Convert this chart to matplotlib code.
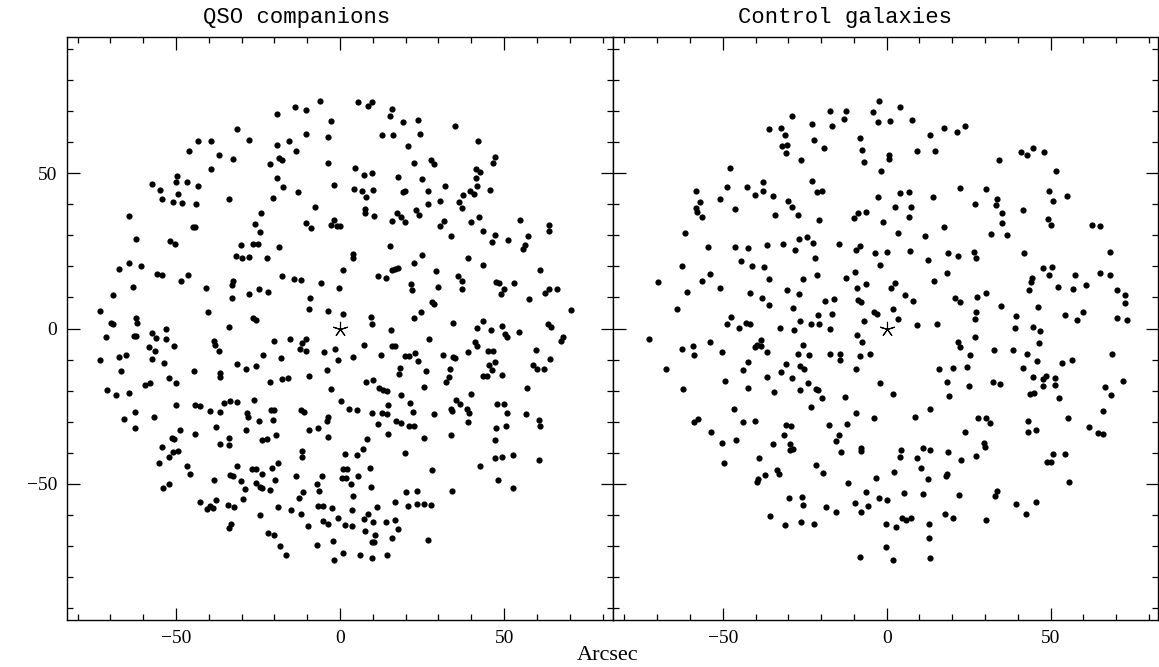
import matplotlib
matplotlib.use('Agg')
import matplotlib.pyplot as plt
from matplotlib.ticker import MultipleLocator

# ---------------- data (arcsec offsets) ----------------
qso_xy = [
(-6.1,73.5),(-13.8,71.5),(-10.4,70.6),(-19.2,69.1),(-2.7,66.8),(-31.5,64.4),(-10.5,62.6),(-3.6,61.8),(-43.4,60.5),(-39.2,60.5),(-27.7,60.9),(-15.5,60.6),(-19.2,59.3),(-45.9,57.3),(-13.3,57.1),(-37.0,55.9),(-32.7,54.7),(-18.6,55.1),(-17.7,54.2),(-3.6,53.5),(-21.3,52.9),(-39.4,51.3),(-49.7,49.3),(-50.0,47.4),(-57.4,46.5),(-46.6,47.4),(-43.4,46.1),(-55.0,44.6),(-19.1,48.4),(-17.3,45.7),(-1.8,46.4),(-49.3,43.3),(-54.3,41.6),(-50.9,40.9),(-48.3,40.4),(-43.9,40.2),(-33.7,41.7),(-20.4,42.2),(-12.8,43.9),(-7.7,39.3),(-64.4,36.2),(-24.0,37.2),(-1.8,35.1),(-2.8,33.3),(-1.0,33.1),(0.0,33.1),(-44.9,32.8),(-44.1,32.6),(-26.0,33.6),(-10.3,34.0),(-8.7,32.3),(-24.3,31.1),(-62.3,29.0),(-51.7,28.3),(-50.3,27.2),(-30.2,26.9),(-26.4,27.4),(-25.1,27.4),(-18.5,26.2),
(5.5,72.9),(8.5,71.9),(9.7,73.2),(15.9,70.9),(15.3,68.4),(19.3,66.7),(23.9,67.1),(34.9,65.4),(12.8,62.4),(16.3,62.3),(24.3,62.6),(42.1,60.6),(20.8,58.9),(4.6,51.7),(7.4,49.5),(9.7,50.2),(22.5,53.5),(27.7,54.3),(28.6,53.2),(47.2,55.3),(46.6,53.5),(41.4,51.3),(42.8,50.4),(17.6,48.7),(25.1,48.2),(41.4,48.5),(4.4,45.1),(6.6,44.4),(10.1,44.6),(8.0,42.5),(19.1,44.1),(19.8,44.4),(26.8,44.4),(31.9,45.9),(41.7,45.9),(45.6,44.7),(39.7,44.2),(40.8,43.5),(37.6,42.9),(36.3,40.9),(37.3,38.7),(30.6,41.1),(26.7,40.0),(7.5,38.4),(7.5,37.3),(10.5,36.3),(17.3,37.2),(18.7,36.1),(19.9,34.5),(15.9,34.6),(23.2,38.2),(24.2,36.7),(31.6,34.7),(30.6,33.1),(33.8,29.9),(39.8,34.4),(42.4,36.1),(43.7,31.3),(47.2,30.3),(46.3,27.8),(51.2,28.5),(54.8,35.1),(57.2,29.7),(63.8,33.4),(63.6,31.4),(56.4,26.8),(55.9,25.7),(15.2,26.5),
(-31.7,23.5),(-29.8,22.8),(-27.7,23.1),(-22.3,22.6),(-67.5,19.3),(-64.4,21.0),(-60.6,20.3),(-55.8,17.6),(-54.1,17.1),(-48.5,15.4),(-46.3,17.3),(-63.0,13.3),(-69.3,10.9),(-40.8,13.2),(-32.7,15.3),(-33.0,13.9),(-32.9,9.9),(-27.7,11.2),(-24.8,12.7),(-22.0,11.7),(-17.7,17.0),(-13.9,15.9),(-12.0,15.5),(-5.7,14.7),(-9.1,9.9),(-9.4,6.3),(-3.8,5.6),(-73.1,5.6),(-40.3,5.2),(-26.5,3.5),(-25.7,2.9),(-62.2,3.5),(-61.9,1.8),(-69.8,1.8),(-69.3,1.6),(-53.1,0.0),(-33.9,0.4),(-71.3,-2.6),(-62.7,-2.4),(-62.1,-2.4),(-57.2,-1.6),(-56.2,-3.1),(-53.0,-3.5),(-50.7,-5.8),(-58.2,-6.1),(-56.4,-7.2),(-38.5,-4.1),(-38.1,-5.4),(-36.8,-7.4),(-20.0,-4.0),(-15.2,-3.5),(-11.7,-4.6),(-10.4,-3.5),(-12.2,-6.7),(-10.3,-7.1),(-4.8,-7.5),(-1.5,-6.6),(-73.0,-10.3),(-67.5,-9.1),(-65.3,-8.7),(-57.3,-9.9),(-53.7,-11.1),(-66.8,-13.8),(-44.5,-13.7),(-36.7,-14.4),(-36.5,-15.6),(-31.5,-11.6),(-28.6,-13.2),(-25.7,-12.2),(-23.4,-8.5),(-18.0,-9.6),(-9.5,-15.2),(-4.1,-13.3),(-52.2,-15.9),(-50.0,-17.7),(-59.5,-18.1),(-57.8,-17.6),(-71.1,-19.7),(-68.2,-21.4),(-64.3,-20.7),(-21.3,-17.4),(-17.7,-16.3),(-15.8,-15.9),(-2.7,-19.6),(-49.9,-24.7),(-44.1,-24.7),(-42.7,-24.9),(-35.4,-24.0),(-33.5,-23.3),(-31.4,-23.6),(-26.1,-23.1),
(3.9,23.9),(3.9,22.8),(25.1,23.8),(22.4,21.2),(38.9,22.6),(43.6,20.6),(60.9,18.9),(0.9,19.0),(15.8,18.9),(16.7,19.2),(17.8,19.6),(29.3,18.5),(11.7,17.0),(14.0,16.2),(35.9,16.9),(37.1,15.3),(37.3,12.7),(47.4,14.9),(48.6,14.8),(53.1,14.6),(50.0,12.8),(49.1,11.2),(21.7,14.2),(22.0,12.4),(30.0,13.3),(-0.3,12.9),(62.5,11.4),(63.8,12.7),(66.1,12.7),(57.6,9.4),(70.3,6.1),(28.1,8.7),(28.5,8.0),(24.6,5.4),(22.5,3.5),(1.0,4.6),(9.4,3.8),(9.9,1.3),(15.5,-0.4),(34.4,1.7),(41.8,0.3),(43.5,2.4),(46.0,-0.6),(49.5,0.9),(50.4,-1.9),(50.9,-2.8),(54.7,-1.2),(63.5,1.5),(64.2,0.4),(67.9,-2.8),(67.5,-3.9),(27.2,-3.5),(7.4,-5.3),(15.9,-5.5),(16.7,-5.5),(-0.7,-10.1),(4.0,-9.2),(12.5,-8.5),(19.9,-9.0),(20.9,-8.8),(22.9,-7.8),(23.7,-10.4),(31.3,-8.6),(34.4,-9.1),(35.0,-9.5),(39.0,-7.6),(41.2,-4.4),(41.7,-5.5),(45.1,-7.4),(46.5,-7.2),(47.1,-10.9),(45.5,-11.7),(46.4,-13.3),(59.6,-7.0),(63.9,-9.9),(58.8,-11.7),(60.1,-13.1),(62.3,-13.1),(18.2,-12.8),(18.0,-14.7),(26.3,-13.8),(33.5,-13.1),(33.3,-15.6),(32.2,-17.3),(43.6,-15.4),(44.8,-15.2),(49.5,-15.1),(8.0,-17.4),(10.2,-16.7),(12.0,-19.3),(13.0,-19.9),(14.2,-20.0),(25.6,-18.9),(18.5,-21.6),(39.8,-21.1),(57.1,-19.3),(0.3,-23.3),(14.7,-24.8),(21.3,-24.1),(35.3,-23.1),(36.6,-24.4),(47.8,-24.4),(49.9,-24.4),
(-65.8,-29.1),(-62.5,-27.0),(-56.7,-28.6),(-62.5,-32.2),(-39.5,-26.5),(-36.5,-26.8),(-28.3,-27.2),(-28.0,-28.4),(-21.1,-26.3),(-20.0,-26.3),(-12.0,-26.3),(-10.9,-26.9),(-3.6,-28.6),(-4.1,-29.7),(-24.8,-29.7),(-20.5,-29.5),(-48.9,-32.7),(-44.2,-34.0),(-37.9,-31.7),(-28.6,-32.6),(-9.5,-32.7),(-6.8,-32.2),(-3.7,-34.9),(-51.3,-35.2),(-50.6,-35.5),(-54.1,-38.2),(-49.3,-39.4),(-50.8,-39.9),(-52.1,-41.3),(-55.3,-43.5),(-36.6,-37.1),(-33.8,-35.4),(-33.9,-37.5),(-23.7,-36.1),(-22.4,-35.7),(-19.4,-34.2),(-11.5,-39.4),(-11.5,-41.3),(-46.6,-44.3),(-45.8,-46.9),(-31.5,-44.3),(-33.5,-47.1),(-32.6,-47.5),(-26.7,-45.3),(-25.6,-45.4),(-23.7,-46.8),(-20.8,-44.9),(-18.9,-43.5),(-13.5,-47.5),(-5.5,-47.6),(-53.9,-51.3),(-52.2,-50.2),(-38.5,-48.9),(-30.3,-49.1),(-29.1,-51.8),(-25.7,-49.7),(-24.4,-51.2),(-23.7,-51.5),(-21.3,-52.0),(-19.7,-48.7),(-7.0,-50.2),(-6.4,-52.3),(-11.2,-52.7),(-12.4,-54.6),(-42.8,-56.1),(-40.6,-58.2),(-39.6,-57.1),(-38.6,-57.9),(-37.9,-55.4),(-34.1,-56.9),(-32.2,-57.4),(-29.6,-55.1),(-24.4,-60.0),(-18.9,-57.5),(-14.8,-58.5),(-12.0,-59.7),(-6.8,-57.3),(-5.2,-57.1),(-2.3,-58.0),(-5.2,-62.2),(-3.7,-62.9),(-9.7,-63.6),(-33.2,-63.0),(-33.8,-64.4),(-21.9,-66.0),(-20.0,-66.5),(-18.3,-70.1),(-16.5,-73.1),(-7.0,-69.8),(-2.1,-68.5),(-1.8,-74.8),
(2.8,-25.9),(5.1,-26.3),(9.9,-27.3),(12.7,-27.2),(14.2,-27.5),(22.3,-26.9),(28.7,-27.7),(33.8,-26.1),(34.1,-26.5),(38.7,-25.9),(39.4,-27.3),(50.8,-27.3),(56.8,-27.6),(60.6,-29.4),(60.9,-31.4),(11.6,-30.7),(14.5,-34.1),(17.0,-29.9),(18.7,-30.6),(21.0,-31.6),(22.7,-31.5),(8.2,-35.6),(25.6,-35.3),(33.9,-34.3),(38.9,-30.3),(47.5,-32.2),(50.6,-31.6),(47.2,-36.1),(6.9,-38.9),(1.6,-40.4),(5.1,-40.7),(19.7,-40.0),(47.1,-41.8),(49.3,-41.3),(52.6,-40.7),(60.6,-42.4),(42.7,-44.3),(1.0,-45.3),(2.2,-45.3),(9.1,-44.9),(0.7,-48.1),(1.7,-48.2),(5.4,-47.6),(28.1,-45.6),(48.1,-48.7),(52.6,-51.5),(3.5,-50.2),(9.5,-51.1),(4.1,-54.1),(20.0,-52.8),(23.4,-52.3),(34.0,-52.3),(16.8,-56.1),(20.8,-57.1),(23.5,-56.7),(25.7,-56.7),(27.7,-57.0),(11.2,-57.4),(3.6,-58.6),(-0.5,-61.1),(8.4,-59.9),(7.4,-61.5),(10.2,-62.3),(1.6,-63.5),(3.6,-63.8),(13.9,-62.5),(16.9,-61.9),(17.6,-64.5),(7.6,-65.2),(10.8,-66.5),(9.7,-68.8),(10.5,-68.8),(15.9,-67.4),(26.9,-68.1),(0.8,-72.5),(6.2,-73.1),(9.7,-73.9),(14.3,-72.9),
]

ctrl_xy = [
(-2.2,73.5),(-4.3,69.9),(-2.5,66.5),(-17.4,70.2),(-12.5,70.2),(-13.1,67.7),(-28.8,68.4),(-22.7,66.1),(-16.6,65.3),(-35.8,64.3),(-32.1,64.6),(-31.0,62.3),(-31.8,59.0),(-30.3,59.3),(-30.8,56.5),(-22.3,60.9),(-19.1,58.1),(-26.0,54.3),(-8.2,61.5),(-7.4,57.5),(-7.0,53.7),(-1.7,50.8),(-47.9,51.7),(-58.1,44.4),(-48.8,45.7),(-42.6,45.7),(-37.7,47.2),(-37.7,44.2),(-40.2,42.9),(-34.7,42.7),(-51.0,41.9),(-57.1,40.9),(-58.1,38.9),(-57.8,37.7),(-56.2,35.9),(-46.3,38.4),(-30.1,41.1),(-28.9,39.1),(-34.1,36.7),(-26.9,36.7),(-22.9,47.6),(-21.1,44.1),(-19.7,44.4),(-20.7,35.1),(-10.1,35.5),(-8.8,37.1),(-6.3,37.5),(-2.7,42.5),(-1.2,34.3),(-61.4,30.7),(-54.6,26.2),(-46.4,26.2),(-42.3,25.8),(-36.6,27.0),(-31.6,27.3),(-28.0,25.4),(-26.7,28.7),(-24.3,29.6),(-22.6,27.6),(-14.6,27.3),(-8.2,26.7),(-9.5,25.4),
(4.1,71.3),(1.0,66.9),(7.6,67.2),(17.6,64.8),(21.4,63.5),(23.9,65.3),(13.1,62.4),(0.8,56.1),(0.6,54.7),(9.2,57.1),(14.9,57.1),(34.4,54.2),(40.9,57.0),(42.8,55.8),(44.8,58.3),(48.0,57.0),(51.8,50.8),(22.4,45.2),(30.3,44.9),(4.0,43.6),(6.7,43.9),(14.0,42.4),(2.7,39.1),(7.5,39.1),(6.9,36.1),(26.9,40.2),(33.6,41.9),(33.5,39.7),(35.3,37.2),(35.2,34.1),(31.8,30.5),(36.7,30.3),(41.5,38.2),(49.4,44.2),(50.9,41.1),(55.1,42.7),(49.2,35.3),(50.3,33.3),(62.8,33.3),(65.0,33.1),(3.4,30.7),(11.8,29.8),(17.6,32.8),
(-3.6,24.2),(-62.3,20.2),(-69.9,14.9),(-61.0,11.7),(-56.4,15.4),(-53.8,17.7),(-50.8,13.1),(-64.1,6.4),(-72.6,-3.5),(-44.5,21.9),(-41.2,20.2),(-37.5,19.8),(-36.0,15.9),(-41.8,11.6),(-38.0,9.9),(-35.8,7.6),(-22.0,22.6),(-25.5,15.9),(-21.1,17.2),(-30.3,12.4),(-26.8,11.2),(-28.7,6.5),(-18.9,8.9),(-16.2,9.6),(-20.8,4.3),(-16.8,4.8),(-12.5,16.2),(-9.7,18.2),(-6.4,14.3),(-9.1,13.2),(-2.0,20.6),(-8.8,9.3),(-7.8,8.7),(-3.9,5.4),(-3.0,4.6),(-7.0,2.5),(-47.6,3.6),(-48.7,1.4),(-45.1,0.3),(-43.0,1.9),(-41.6,1.3),(-32.4,0.1),(-28.4,-0.6),(-26.5,2.4),(-23.2,1.3),(-20.7,1.3),(-17.4,-0.2),(-8.9,-2.0),(-7.6,-4.2),(-62.3,-6.5),(-59.2,-5.7),(-58.8,-8.5),(-53.8,-4.2),(-50.3,-7.7),(-67.4,-13.2),(-40.3,-6.1),(-39.6,-5.3),(-38.3,-3.8),(-38.4,-5.5),(-36.6,-7.6),(-25.6,-5.3),(-27.0,-8.2),(-23.8,-8.7),(-17.3,-8.2),(-14.3,-8.3),(-14.2,-10.0),(-8.2,-8.8),(-5.1,-8.2),(-42.3,-10.8),(-43.8,-13.5),(-30.8,-11.6),(-32.3,-14.1),(-26.4,-12.2),(-25.1,-13.0),(-9.5,-12.9),(-36.6,-15.8),(-28.9,-16.1),(-49.3,-16.9),(-62.1,-19.4),(-42.3,-19.1),(-34.5,-20.6),(-26.5,-19.7),(-24.0,-17.7),(-21.6,-19.5),(-20.8,-19.9),(-19.7,-22.4),(-12.8,-22.2),(-1.9,-17.5),
(0.2,24.7),(7.2,25.1),(12.7,22.0),(18.6,24.3),(21.9,23.5),(26.6,24.8),(27.3,22.6),(41.9,24.4),(68.2,24.7),(18.3,18.0),(14.4,15.2),(2.4,14.7),(1.2,13.2),(5.5,10.9),(7.9,8.8),(1.8,6.2),(3.6,3.0),(9.4,1.1),(15.5,1.3),(21.0,9.7),(22.5,8.4),(27.7,10.0),(30.4,11.6),(27.3,5.2),(27.1,3.1),(35.0,7.3),(39.6,4.1),(47.6,19.5),(50.5,19.7),(49.4,17.4),(44.3,16.4),(44.1,14.9),(43.3,12.4),(52.3,13.5),(57.6,17.4),(57.0,12.6),(60.7,14.1),(65.2,18.0),(68.2,17.1),(70.2,12.3),(72.6,10.9),(72.6,8.3),(46.2,6.8),(54.3,4.5),(60.0,5.3),(58.1,2.6),(70.3,3.5),(73.2,2.8),(39.2,0.2),(44.6,0.4),(46.7,-0.7),(27.1,-2.8),(21.9,-4.5),(22.3,-5.9),(25.5,-8.5),(32.8,-7.0),(38.5,-7.0),(42.8,-8.3),(46.6,-4.6),(45.8,-10.6),(53.4,-11.1),(56.5,-10.3),(68.7,-8.1),(16.1,-13.0),(20.2,-12.8),(24.4,-12.4),(41.5,-12.6),(18.3,-17.3),(25.2,-18.6),(32.5,-17.3),(34.5,-17.8),(44.8,-15.6),(47.6,-16.2),(48.6,-15.4),(51.3,-16.1),(51.4,-18.2),(47.6,-18.6),(43.7,-21.2),(45.1,-20.7),(52.5,-22.4),(1.8,-21.1),(19.0,-21.8),(66.7,-19.0),(68.4,-21.5),(72.2,-16.9),
(-46.7,-25.8),(-23.1,-25.3),(-58.8,-30.0),(-57.7,-29.1),(-53.7,-33.5),(-50.3,-37.0),(-46.0,-36.0),(-49.5,-43.3),(-43.8,-30.2),(-40.2,-29.8),(-34.8,-37.3),(-38.8,-41.6),(-30.8,-31.0),(-29.1,-31.5),(-31.2,-34.3),(-29.6,-37.2),(-29.4,-39.1),(-28.7,-38.9),(-17.7,-31.2),(-12.1,-30.7),(-9.5,-27.4),(-3.9,-28.9),(-14.5,-34.5),(-15.6,-36.4),(-14.0,-39.9),(-7.9,-38.6),(-7.8,-39.5),(-21.7,-44.0),(-19.4,-46.5),(-33.6,-45.7),(-32.8,-46.9),(-37.1,-47.1),(-39.2,-48.5),(-39.7,-49.4),(-11.7,-49.9),(-3.1,-48.1),(-29.7,-54.7),(-25.8,-54.4),(-25.6,-56.8),(-18.6,-57.5),(-15.5,-59.1),(-9.8,-56.2),(-7.8,-59.1),(-5.8,-57.3),(-6.3,-52.6),(-2.3,-54.6),(-35.5,-60.5),(-30.9,-63.3),(-26.1,-62.5),(-22.2,-63.0),(-8.2,-73.7),
(13.1,-26.1),(8.8,-28.6),(28.0,-28.7),(30.4,-28.7),(31.6,-30.5),(24.0,-33.4),(43.2,-29.7),(43.2,-33.5),(45.7,-32.7),(55.2,-28.9),(66.1,-26.5),(61.7,-31.7),(64.6,-33.8),(65.9,-34.0),(4.4,-39.1),(4.2,-41.3),(11.2,-38.6),(13.3,-39.1),(9.4,-41.8),(18.8,-39.9),(22.6,-42.3),(27.3,-41.0),(29.8,-37.0),(30.0,-38.2),(10.4,-45.1),(2.3,-46.2),(12.5,-48.6),(18.4,-46.9),(18.1,-47.7),(50.9,-40.5),(48.9,-43.2),(50.1,-43.2),(54.4,-40.4),(55.5,-49.4),(5.2,-52.9),(11.1,-53.3),(22.0,-53.6),(33.8,-52.4),(33.2,-54.1),(39.4,-56.7),(45.5,-56.1),(42.4,-59.7),(0.0,-55.4),(4.7,-61.0),(6.0,-61.9),(7.4,-61.2),(-0.1,-62.9),(3.0,-64.0),(12.9,-63.2),(17.9,-59.9),(20.1,-61.2),(30.2,-61.7),(12.9,-67.4),(-0.1,-70.4),(2.0,-74.6),(13.3,-74.0),
]

qso_x = [p[0] for p in qso_xy]
qso_y = [p[1] for p in qso_xy]
ctrl_x = [p[0] for p in ctrl_xy]
ctrl_y = [p[1] for p in ctrl_xy]

titles = ["QSO companions", "Control galaxies"]
xlabel = "Arcsec"
ticks_major = [-50, 0, 50]

# ---------------- figure ----------------
W, H = 1159, 667
fig = plt.figure(figsize=(W / 100, H / 100), dpi=100)
bottom = 1 - 620 / H
height = (620 - 37) / H
axL = fig.add_axes([67 / W, bottom, (613 - 67) / W, height])
axR = fig.add_axes([613 / W, bottom, (1158 - 613) / W, height])

tick_font = {'family': 'Liberation Serif', 'size': 14}

for ax, xs, ys, xl in [(axL, qso_x, qso_y, (-83.2, 83.2)),
                       (axR, ctrl_x, ctrl_y, (-83.5, 82.8))]:
    ax.scatter(xs, ys, s=20, c='black', linewidths=0, zorder=3)
    ax.plot([0], [0], marker=(5, 2, 0), ms=11, mew=0.8, color='black',
            linestyle='none', zorder=4)
    ax.set_xlim(*xl)
    ax.set_ylim(-94, 94)
    ax.xaxis.set_major_locator(MultipleLocator(50))
    ax.xaxis.set_minor_locator(MultipleLocator(10))
    ax.yaxis.set_major_locator(MultipleLocator(50))
    ax.yaxis.set_minor_locator(MultipleLocator(10))
    ax.tick_params(which='both', direction='in', top=True, right=True,
                   width=0.9, labelsize=14)
    ax.tick_params(which='major', length=9, pad=7)
    ax.tick_params(which='minor', length=4.5)
    for sp in ax.spines.values():
        sp.set_linewidth(1.0)
    for lab in ax.get_xticklabels() + ax.get_yticklabels():
        lab.set_fontfamily('Liberation Serif')

axR.tick_params(labelleft=False)
axL.set_yticklabels([str(t).replace('-', '\u2212') for t in ticks_major])
axL.set_yticks(ticks_major)
for ax in (axL, axR):
    ax.set_xticks(ticks_major)
    ax.set_xticklabels([str(t).replace('-', '\u2212') for t in ticks_major],
                       fontfamily='Liberation Serif', fontsize=14)
axL.set_yticklabels([str(t).replace('-', '\u2212') for t in ticks_major],
                    fontfamily='Liberation Serif', fontsize=14)

fig.text(297 / W, 1 - 18 / H, titles[0], ha='center', va='center',
         fontfamily='Liberation Mono', fontsize=16)
fig.text(845 / W, 1 - 18 / H, titles[1], ha='center', va='center',
         fontfamily='Liberation Mono', fontsize=16)
fig.text(608 / W, 1 - 655 / H, xlabel, ha='center', va='center',
         fontfamily='Liberation Serif', fontsize=16)

fig.savefig('out.png', dpi=100)
